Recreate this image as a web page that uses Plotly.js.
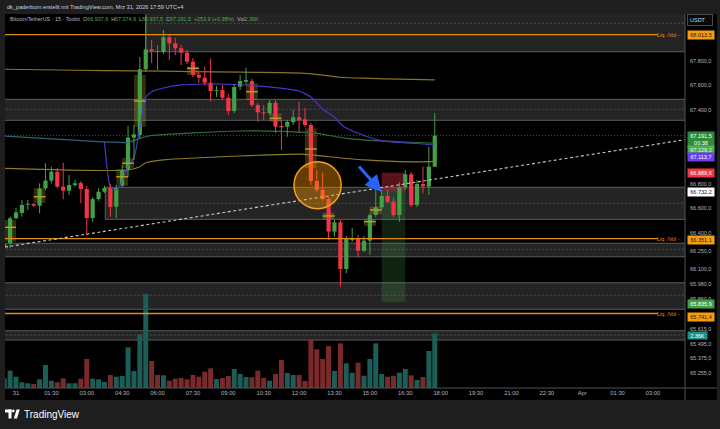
<!DOCTYPE html>
<html><head><meta charset="utf-8">
<script src="https://cdn.plot.ly/plotly-3.0.1.min.js"></script>
<style>html,body{margin:0;padding:0;background:#1e1e1e;}#chart{width:720px;height:429px;}</style>
</head><body><div id="chart"></div>
<script>
// ---------- DATA ----------
const day = '2026-03-31 ';
const barTimes = ['2026-03-30 23:30','2026-03-30 23:45'].concat([
 '00:00','00:15','00:30','00:45','01:00','01:15','01:30','01:45','02:00','02:15','02:30','02:45',
 '03:00','03:15','03:30','03:45','04:00','04:15','04:30','04:45','05:00','05:15','05:30','05:45',
 '06:00','06:15','06:30','06:45','07:00','07:15','07:30','07:45','08:00','08:15','08:30','08:45',
 '09:00','09:15','09:30','09:45','10:00','10:15','10:30','10:45','11:00','11:15','11:30','11:45',
 '12:00','12:15','12:30','12:45','13:00','13:15','13:30','13:45','14:00','14:15','14:30','14:45',
 '15:00','15:15','15:30','15:45','16:00','16:15','16:30','16:45','17:00','17:15','17:30','17:45'
].map(t => day + t));

const opens = [66281,66316,66517,66560,66630,66634,66620,66762,66824,66897,66775,66742,66789,66805,66756,66520,66674,66734,66767,66612,
 66783,66911,67175,67196,67732,67894,67880,67873,67993,67943,67903,67867,67794,67686,67663,67623,67555,67563,67500,67392,
 67590,67630,67636,67440,67381,67373,67459,67270,67264,67300,67341,67324,67278,66821,66748,66674,66409,66484,66104,66341,
 66354,66253,66335,66544,66607,66699,66653,66544,66770,66876,66626,66797,66775,66937.6];
const highs = [66324,66531,66603,66667,66667,66642,66802,66966,66938,66927,66971,66870,66830,66821,66781,66691,66764,66781,66796,66789,
 66952,67270,67278,67832,68168,67970,67930,68052,68019,67987,67930,67889,67823,67710,67752,67821,67596,67604,67530,67612,
 67686,67745,67653,67457,67440,67482,67482,67318,67318,67400,67468,67417,67294,66911,66889,66691,66503,66503,66373,66438,
 66381,66373,66560,66775,66748,66748,66683,66813,66911,66895,66830,66938,67101,67374.9];
const lows = [66267,66276,66512,66531,66585,66609,66558,66748,66802,66764,66672,66707,66773,66640,66381,66489,66659,66724,66531,66520,
 66764,66854,66992,67172,67710,67783,67726,67857,67808,67848,67766,67775,67669,67621,67604,67468,67506,67482,67360,67375,
 67563,67612,67425,67305,67318,67360,67213,67074,67182,67278,67213,67261,66789,66731,66659,66341,66367,65960,66069,66324,
 66200,66242,66221,66528,66585,66642,66528,66489,66748,66609,66609,66721,66707,66937.5];
const closes = [66308,66517,66566,66626,66634,66621,66759,66824,66897,66775,66742,66789,66802,66756,66520,66674,66734,66764,66612,66764,
 66911,67175,67202,67732,67894,67880,67873,67993,67943,67903,67867,67794,67686,67663,67623,67555,67563,67500,67392,67587,
 67636,67644,67440,67381,67373,67459,67264,67259,67303,67341,67318,67278,66821,66748,66674,66409,66484,66104,66354,66354,
 66253,66335,66544,66607,66699,66653,66544,66770,66876,66626,66797,66778,66938,67191.5];
const volumes = [418,746,487,246,203,172,375,991,315,246,418,203,203,401,1250,401,375,259,560,487,
 517,1754,733,2314,4051,1164,560,547,315,401,431,375,560,487,703,849,388,431,517,819,
 603,474,461,746,431,315,603,1207,647,560,560,302,2069,1668,1250,1810,733,1927,1065,659,
 1090,530,1250,1927,603,487,530,659,819,547,345,474,1595,2360];

// moving averages (bar index into barTimes, price)
const maSlowK = [0,12,22,32,40,47,51,54,57,62,67,73];
const maSlow  = [67732,67724,67719,67713,67708,67704,67699,67685,67667,67658,67651,67645];
const vwapK = [17,18,19,20,21,22,23,24,25,27,30,34,38,42,46,50,52,53,54,55,56,57,58,60,62,64,67,70,73];
const vwap  = [67142,66772,66748,66813,66944,67009,67253,67506,67547,67579,67604,67612,67610,67600,67583,67555,67506,67457,67408,67376,67343,67286,67253,67210,67176,67151,67135,67127,67113.7];
const maMidK = [0,16,21,23,25,32,40,47,53,58,63,68,73];
const maMid  = [67188,67142,67134,67169,67192,67213,67229,67225,67210,67169,67150,67139,67129.2];
const maLowK = [0,21,23,24,27,40,51,55,61,67,72,73];
const maLow  = [66925,66911,66938,66970,66993,67025,67039,67019,66993,66979,66979,66984];

// zones
const zoneTop   = [68337,67487,66770,66314,65992,65601];
const zoneBot   = [67875,67316,66509,66204,65776,65525];
const zoneMid   = [68107,67406,66640,66265,65890,65566];
const zoneStart = ['2026-03-31 05:30',null,'2026-03-31 03:47',null,null,null];

const liqLevels = [68013.5,66351.1,65741.4];

// highlighted bars
const hlK   = [1,6,20,21,23,32,42,46,52,55,62,63];
const hlTop = [66503,66764,66919,67009,67685,67753,67618,67373,67251,66563,66512,66612];
const hlBot = [66327,66642,66783,66927,67264,67685,67482,67305,66925,66509,66455,66552];
const hlMid = [66444,66693,66856,66966,67473,67740,67549,67332,67082,66536,66490,66585];

// position tool
const posEntry = 66732.2, posStop = 66889.6, posTarget = 65835.9;
const posStart = '2026-03-31 15:30', posEnd = '2026-03-31 16:30';

// trend line
const trendT = ['2026-03-30 23:32','2026-04-01 04:21'];
const trendP = [66283,67158];

// circle marker
const circT = ['2026-03-31 11:47','2026-03-31 13:47'];
const circP = [66596,66979];

// axes
const xTickVals = ['2026-03-31 00:00','2026-03-31 01:30','2026-03-31 03:00','2026-03-31 04:30','2026-03-31 06:00','2026-03-31 07:30',
 '2026-03-31 09:00','2026-03-31 10:30','2026-03-31 12:00','2026-03-31 13:30','2026-03-31 15:00','2026-03-31 16:30','2026-03-31 18:00',
 '2026-03-31 19:30','2026-03-31 21:00','2026-03-31 22:30','2026-04-01 00:00','2026-04-01 01:30','2026-04-01 03:00'];
const xTickText = ['31','01:30','03:00','04:30','06:00','07:30','09:00','10:30','12:00','13:30','15:00','16:30','18:00','19:30','21:00','22:30','Apr','01:30','03:00'];
const yTickVals = [67800,67600,67400,66800,66600,66400,66250,66100,65980,65860,65615,65495,65375,65255];
const yTickText = ['67.800,0','67.600,0','67.400,0','66.800,0','66.600,0','66.400,0','66.250,0','66.100,0','65.980,0','65.860,0','65.615,0','65.495,0','65.375,0','65.255,0'];

// price labels on the axis
const lblPrice = [68013.5,67191.5,67129.2,67113.7,66889.6,66732.2,66351.1,65835.9,65741.4];
const lblText  = ['68.013,5','67.191,5<br>00:38','67.129,2','67.113,7','66.889,6','66.732,2','66.351,1','65.835,9','65.741,4'];
const lblBg    = ['#f59d0e','#2e8b3a','#4caf50','#6a3df0','#f23645','#ffffff','#f59d0e','#43a047','#f59d0e'];
const lblFg    = ['#1a1a1a','#ffffff','#e8f5e9','#ffffff','#ffffff','#111111','#1a1a1a','#ffffff','#1a1a1a'];
const lblShift = [0,-4,-6.5,-12,-0.5,0,-1,-2,-3];

// ---------- GEOMETRY HELPERS ----------
const W=720,H=429,ML=5,MR=35,MT=14,MB=41;
const PW=W-ML-MR, PH=H-MT-MB;
const px = X => (X-ML)/PW;
const py = Y => (H-MB-Y)/PH;

const UP='#43a047', DN='#f23645';
const FONT='Liberation Sans, Arial, sans-serif';

// ---------- TRACES ----------
const isUp = closes.map((c,i)=>c>=opens[i]);
const bodyBase = [], bodyLen = [];
closes.forEach((c,i)=>{
  const lo=Math.min(c,opens[i]), hi=Math.max(c,opens[i]);
  if (hi-lo < 8){ const m=(hi+lo)/2; bodyBase.push(m-4); bodyLen.push(8); }
  else { bodyBase.push(lo); bodyLen.push(hi-lo); }
});
function wick(up){
  const x=[],y=[];
  barTimes.forEach((t,i)=>{ if(isUp[i]===up){ x.push(t,t,null); y.push(lows[i],highs[i],null);} });
  return {type:'scatter',mode:'lines',x:x,y:y,line:{color:up?UP:DN,width:1},hoverinfo:'skip',xaxis:'x',yaxis:'y'};
}
const pick = ks => ks.map(k=>barTimes[k]);

const traces = [
  {type:'scatter',mode:'lines',x:pick(maSlowK),y:maSlow,line:{color:'#857426',width:1.2,shape:'spline',smoothing:0.6}},
  {type:'scatter',mode:'lines',x:pick(maMidK.slice(0,3)),y:maMid.slice(0,3),line:{color:'#2f6172',width:1.2,shape:'spline',smoothing:0.6}},
  {type:'scatter',mode:'lines',x:pick(maMidK.slice(2)),y:maMid.slice(2),line:{color:'#2f6e3c',width:1.2,shape:'spline',smoothing:0.6}},
  {type:'scatter',mode:'lines',x:pick(maLowK),y:maLow,line:{color:'#8a7a2a',width:1.2,shape:'spline',smoothing:0.6}},
  {type:'scatter',mode:'lines',x:pick(vwapK),y:vwap,line:{color:'#4a35c8',width:1.2,shape:'spline',smoothing:0.5}},
  wick(true), wick(false),
  {type:'bar',x:barTimes,y:bodyLen,base:bodyBase,width:640000,marker:{color:isUp.map(u=>u?UP:DN),line:{width:0}},xaxis:'x',yaxis:'y'},
  {type:'bar',x:barTimes,y:volumes,width:760000,marker:{color:isUp.map(u=>u?'#1c5d57':'#7a2a2b'),line:{width:0}},xaxis:'x',yaxis:'y2'}
];

// ---------- SHAPES ----------
const FAR_L='2026-03-30 20:00', FAR_R='2026-04-01 08:00';
const shapes = [];
shapes.push({type:'rect',xref:'paper',yref:'paper',x0:0,x1:px(717),y0:py(400),y1:1,fillcolor:'#000000',line:{width:0},layer:'below'});
zoneTop.forEach((t,i)=>{
  const x0 = zoneStart[i] || FAR_L;
  shapes.push({type:'rect',xref:'x',yref:'y',x0:x0,x1:FAR_R,y0:zoneBot[i],y1:t,fillcolor:'#242424',line:{color:'#5c5c5c',width:1},layer:'below'});
  shapes.push({type:'line',xref:'x',yref:'y',x0:x0,x1:FAR_R,y0:zoneMid[i],y1:zoneMid[i],line:{color:'#4e4e4e',width:1,dash:'2px,2px'},layer:'below'});
});
// position tool
shapes.push({type:'rect',xref:'x',yref:'y',x0:posStart,x1:posEnd,y0:posEntry,y1:posStop,fillcolor:'rgba(242,54,69,0.36)',line:{width:0},layer:'below'});
shapes.push({type:'rect',xref:'x',yref:'y',x0:posStart,x1:posEnd,y0:posTarget,y1:posEntry,fillcolor:'rgba(76,175,80,0.2)',line:{width:0},layer:'below'});
// highlight boxes
hlK.forEach((k,i)=>{
  shapes.push({type:'rect',xref:'x',yref:'y',x0:barTimes[k-1],x1:barTimes[k+1],y0:hlBot[i],y1:hlTop[i],fillcolor:'rgba(255,225,60,0.2)',line:{width:0},layer:'below'});
});
// liquidity lines
liqLevels.forEach(v=>{
  shapes.push({type:'line',xref:'paper',yref:'y',x0:0,x1:px(658),y0:v,y1:v,line:{color:'#e08c10',width:1.3},layer:'above'});
});
// price line
shapes.push({type:'line',xref:'paper',yref:'y',x0:0,x1:1,y0:closes[closes.length-1],y1:closes[closes.length-1],line:{color:'#1e6a2c',width:1,dash:'1px,2px'},layer:'below'});
// highlight mid lines
hlK.forEach((k,i)=>{
  shapes.push({type:'line',xref:'x',yref:'y',x0:barTimes[k-1],x1:barTimes[k+1],y0:hlMid[i],y1:hlMid[i],line:{color:'#b9a12e',width:1.4},layer:'above'});
});
// trend line
shapes.push({type:'line',xref:'x',yref:'y',x0:trendT[0],x1:trendT[1],y0:trendP[0],y1:trendP[1],line:{color:'#c8c8c8',width:1.1,dash:'3px,2.5px'},layer:'above'});
// circle
shapes.push({type:'circle',xref:'x',yref:'y',x0:circT[0],x1:circT[1],y0:circP[0],y1:circP[1],fillcolor:'rgba(255,152,0,0.4)',line:{color:'#f5a020',width:1.5},layer:'above'});
// frame lines
shapes.push({type:'line',xref:'paper',yref:'paper',x0:1,x1:1,y0:py(400),y1:1,line:{color:'#50535c',width:1}});
shapes.push({type:'line',xref:'paper',yref:'paper',x0:0,x1:px(717),y0:0,y1:0,line:{color:'#50535c',width:1}});
// TradingView logo icon
shapes.push({type:'rect',xref:'paper',yref:'paper',x0:px(5),x1:px(11.5),y0:py(412.5),y1:py(409.5),fillcolor:'#ffffff',line:{width:0}});
shapes.push({type:'rect',xref:'paper',yref:'paper',x0:px(8.5),x1:px(11.5),y0:py(418.5),y1:py(409.5),fillcolor:'#ffffff',line:{width:0}});
shapes.push({type:'circle',xref:'paper',yref:'paper',x0:px(12),x1:px(14.6),y0:py(412.4),y1:py(409.6),fillcolor:'#ffffff',line:{width:0}});
shapes.push({type:'path',xref:'paper',yref:'paper',path:`M${px(13.8)},${py(418.5)} L${px(16.6)},${py(409.5)} L${px(19.8)},${py(409.5)} L${px(17)},${py(418.5)} Z`,fillcolor:'#ffffff',line:{width:0}});

// ---------- ANNOTATIONS ----------
const G = s => `<span style="color:#4caf50">${s}</span>`;
const ann = [];
ann.push({xref:'paper',yref:'paper',x:px(5),y:py(6.5),xanchor:'left',yanchor:'middle',showarrow:false,
  text:'dk_paderborn erstellt mit TradingView.com, Mrz 31, 2026 17:59 UTC+4',font:{family:FONT,size:5.6,color:'#d1d4dc'}});
ann.push({xref:'paper',yref:'paper',x:px(8),y:py(19),xanchor:'left',yanchor:'middle',showarrow:false,
  text:'Bitcoin/TetherUS · 15 · Toobit&nbsp;&nbsp;O'+G('66.937,6')+'&nbsp;&nbsp;H'+G('67.374,9')+'&nbsp;&nbsp;L'+G('66.937,5')+'&nbsp;&nbsp;C'+G('67.191,5')+'&nbsp;&nbsp;'+G('+253,9 (+0,38%)')+'&nbsp;&nbsp;Vol'+G('2,36K'),
  font:{family:FONT,size:5.4,color:'#b2b5be'}});
liqLevels.forEach(v=>{
  ann.push({xref:'paper',yref:'y',x:px(682),y:v,xanchor:'right',yanchor:'middle',showarrow:false,text:'Liq. /Vol -',font:{family:FONT,size:5.4,color:'#e08c10'}});
});
lblPrice.forEach((v,i)=>{
  ann.push({xref:'paper',yref:'y',x:px(686.5),y:v,yshift:lblShift[i],xanchor:'left',yanchor:'middle',showarrow:false,
    text:lblText[i],bgcolor:lblBg[i],borderpad:1,width:24,align:'center',font:{family:FONT,size:5.5,color:lblFg[i]}});
});
ann.push({xref:'paper',yref:'y2',x:px(686.5),y:volumes[volumes.length-1],yshift:-2,xanchor:'left',yanchor:'middle',showarrow:false,
  text:'2,36K',bgcolor:'#1f8f86',borderpad:0.5,width:18,align:'center',font:{family:FONT,size:5.5,color:'#ffffff'}});
ann.push({xref:'paper',yref:'paper',x:px(687),y:py(20.5),xanchor:'left',yanchor:'middle',showarrow:false,
  text:'USDT',bgcolor:'#0a0a0a',bordercolor:'#4a4a4a',borderwidth:1,borderpad:2,width:20,align:'left',font:{family:FONT,size:5.5,color:'#d1d4dc'}});
ann.push({xref:'paper',yref:'paper',x:px(22),y:py(414),xanchor:'left',yanchor:'middle',showarrow:false,
  text:'TradingView',font:{family:FONT,size:10,color:'#ffffff'}});
// arrow to entry
ann.push({xref:'x',yref:'y',x:posStart,y:posEntry,ax:-24,ay:-27,showarrow:true,arrowhead:2,arrowsize:1.1,arrowwidth:3,arrowcolor:'#2962ff',text:''});

// ---------- LAYOUT ----------
const layout = {
  width:W,height:H,margin:{l:ML,r:MR,t:MT,b:MB,pad:0},
  paper_bgcolor:'#1e1e1e',plot_bgcolor:'#000000',
  showlegend:false,barmode:'overlay',hovermode:false,
  xaxis:{type:'date',range:['2026-03-30 23:32:02','2026-04-01 04:21:26'],tickvals:xTickVals,ticktext:xTickText,
    showgrid:false,zeroline:false,showline:false,ticks:'',tickfont:{family:FONT,size:5.8,color:'#b2b5be'},fixedrange:true},
  yaxis:{range:[65134.3,68182.4],side:'right',tickvals:yTickVals,ticktext:yTickText,showgrid:false,zeroline:false,showline:false,
    ticks:'',ticklabelstandoff:4,tickfont:{family:FONT,size:5.5,color:'#b2b5be'},fixedrange:true},
  yaxis2:{overlaying:'y',range:[0,16130],visible:false,fixedrange:true},
  shapes:shapes,annotations:ann
};
Plotly.newPlot('chart',traces,layout,{staticPlot:true,displayModeBar:false});
</script></body></html>
